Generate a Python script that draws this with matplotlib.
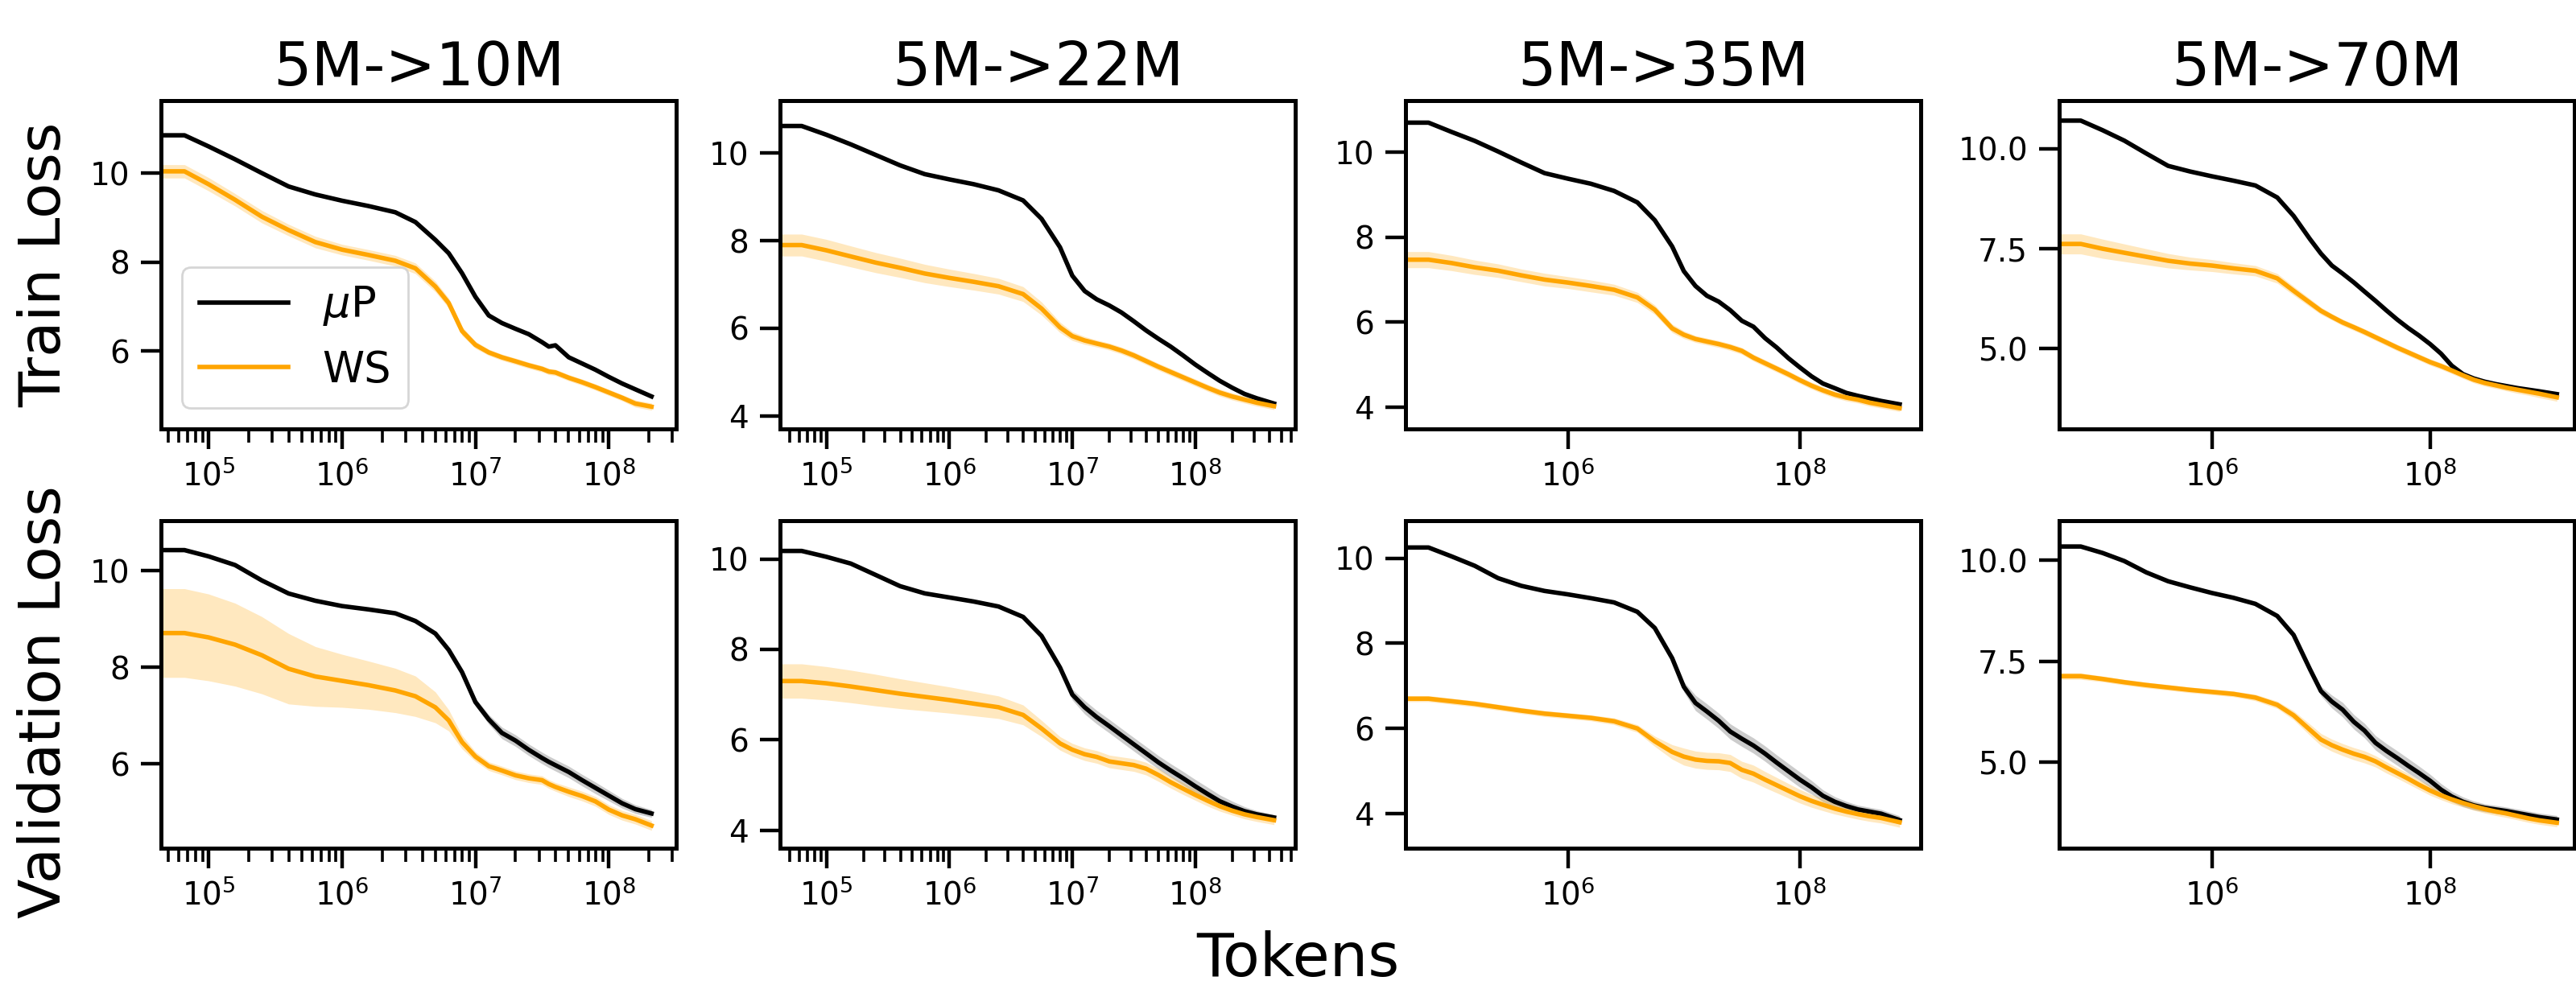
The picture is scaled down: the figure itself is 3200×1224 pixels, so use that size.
import matplotlib

matplotlib.use("Agg")
import matplotlib.pyplot as plt  # noqa: E402
import numpy as np  # noqa: E402
from matplotlib.ticker import (  # noqa: E402
    FixedLocator,
    FormatStrFormatter,
    LogLocator,
    NullFormatter,
    NullLocator,
)

# ------------------------------------------------------------------
# Values (tokens on a log axis, loss on y).
# ------------------------------------------------------------------
TITLES = ["5M->10M", "5M->22M", "5M->35M", "5M->70M"]

# 5M -> 10M
tokens_10m = [4.47e4, 6.6e4, 1.0e5, 1.58e5, 2.51e5, 3.98e5, 6.31e5, 1.0e6, 1.58e6, 2.51e6,
              3.55e6, 5.01e6, 6.31e6, 7.94e6, 1.0e7, 1.26e7, 1.58e7, 2.0e7, 2.51e7, 3.16e7,
              3.55e7, 3.98e7, 5.01e7, 6.31e7, 7.94e7, 1.0e8, 1.26e8, 1.58e8, 2.09e8]
train_mup_10m = [10.85, 10.85, 10.60, 10.31, 10.00, 9.70, 9.52, 9.38, 9.26, 9.12,
                 8.90, 8.50, 8.20, 7.75, 7.22, 6.80, 6.63, 6.50, 6.38, 6.20,
                 6.10, 6.13, 5.86, 5.72, 5.58, 5.42, 5.27, 5.14, 4.98]
train_ws_10m = [10.04, 10.04, 9.75, 9.40, 9.02, 8.72, 8.45, 8.28, 8.16, 8.03,
                7.86, 7.45, 7.08, 6.45, 6.14, 5.97, 5.86, 5.77, 5.68, 5.60,
                5.54, 5.52, 5.40, 5.30, 5.19, 5.07, 4.95, 4.82, 4.75]
train_ws_band_10m = [0.15, 0.15, 0.15, 0.14, 0.14, 0.13, 0.13, 0.12, 0.12, 0.12,
                     0.12, 0.12, 0.11, 0.10, 0.08, 0.07, 0.07, 0.07, 0.07, 0.07,
                     0.07, 0.07, 0.07, 0.07, 0.07, 0.07, 0.07, 0.08, 0.08]
val_mup_10m = [10.43, 10.43, 10.30, 10.12, 9.80, 9.53, 9.38, 9.27, 9.20, 9.12,
               8.96, 8.70, 8.36, 7.90, 7.28, 6.92, 6.64, 6.48, 6.29, 6.12,
               6.04, 5.97, 5.83, 5.66, 5.50, 5.34, 5.18, 5.06, 4.97]
val_mup_band_10m = [0.02, 0.02, 0.02, 0.02, 0.02, 0.02, 0.02, 0.02, 0.02, 0.02,
                    0.03, 0.03, 0.04, 0.06, 0.08, 0.10, 0.12, 0.12, 0.12, 0.12,
                    0.12, 0.12, 0.12, 0.12, 0.12, 0.11, 0.10, 0.09, 0.08]
val_ws_10m = [8.71, 8.71, 8.62, 8.47, 8.25, 7.97, 7.81, 7.72, 7.63, 7.52,
              7.40, 7.17, 6.90, 6.45, 6.15, 5.95, 5.86, 5.76, 5.70, 5.66,
              5.58, 5.52, 5.42, 5.33, 5.22, 5.05, 4.93, 4.85, 4.72]
val_ws_band_10m = [0.92, 0.92, 0.90, 0.86, 0.80, 0.73, 0.62, 0.55, 0.50, 0.46,
                   0.42, 0.32, 0.22, 0.14, 0.10, 0.09, 0.09, 0.09, 0.09, 0.09,
                   0.09, 0.09, 0.10, 0.10, 0.10, 0.10, 0.10, 0.10, 0.10]

# 5M -> 22M
tokens_22m = [4.2e4, 6.3e4, 1.0e5, 1.58e5, 2.51e5, 3.98e5, 6.31e5, 1.0e6, 1.58e6, 2.51e6,
              3.98e6, 5.62e6, 7.94e6, 1.0e7, 1.26e7, 1.58e7, 2.0e7, 2.51e7, 3.16e7, 3.98e7,
              5.01e7, 6.31e7, 7.94e7, 1.0e8, 1.26e8, 1.58e8, 2.0e8, 2.51e8, 3.16e8, 4.37e8]
train_mup_22m = [10.62, 10.62, 10.42, 10.20, 9.96, 9.72, 9.52, 9.40, 9.29, 9.15,
                 8.92, 8.50, 7.85, 7.20, 6.85, 6.66, 6.52, 6.36, 6.16, 5.95,
                 5.76, 5.58, 5.38, 5.17, 4.98, 4.80, 4.64, 4.50, 4.40, 4.28]
train_ws_22m = [7.90, 7.90, 7.78, 7.64, 7.50, 7.38, 7.25, 7.15, 7.06, 6.96,
                6.78, 6.45, 6.02, 5.82, 5.72, 5.65, 5.58, 5.49, 5.38, 5.25,
                5.12, 5.00, 4.88, 4.76, 4.64, 4.53, 4.44, 4.37, 4.30, 4.22]
train_ws_band_22m = [0.25, 0.25, 0.25, 0.24, 0.23, 0.22, 0.21, 0.20, 0.19, 0.18,
                     0.17, 0.15, 0.12, 0.10, 0.09, 0.08, 0.08, 0.08, 0.08, 0.08,
                     0.08, 0.08, 0.08, 0.08, 0.08, 0.08, 0.08, 0.08, 0.08, 0.08]
val_mup_22m = [10.18, 10.18, 10.05, 9.90, 9.65, 9.40, 9.24, 9.15, 9.06, 8.95,
               8.72, 8.30, 7.60, 7.00, 6.72, 6.50, 6.30, 6.10, 5.90, 5.70,
               5.50, 5.32, 5.15, 4.97, 4.80, 4.64, 4.52, 4.42, 4.35, 4.28]
val_mup_band_22m = [0.02, 0.02, 0.02, 0.02, 0.02, 0.02, 0.02, 0.02, 0.02, 0.02,
                    0.03, 0.05, 0.08, 0.12, 0.15, 0.15, 0.15, 0.15, 0.15, 0.15,
                    0.15, 0.15, 0.15, 0.15, 0.15, 0.14, 0.12, 0.10, 0.08, 0.06]
val_ws_22m = [7.30, 7.30, 7.25, 7.18, 7.10, 7.02, 6.95, 6.88, 6.80, 6.72,
              6.55, 6.25, 5.92, 5.78, 5.68, 5.62, 5.52, 5.48, 5.44, 5.36,
              5.22, 5.06, 4.92, 4.78, 4.65, 4.53, 4.43, 4.35, 4.29, 4.22]
val_ws_band_22m = [0.38, 0.38, 0.37, 0.36, 0.35, 0.33, 0.31, 0.29, 0.27, 0.25,
                   0.22, 0.18, 0.15, 0.14, 0.14, 0.14, 0.14, 0.14, 0.14, 0.14,
                   0.14, 0.13, 0.13, 0.12, 0.12, 0.11, 0.10, 0.10, 0.10, 0.10]

# 5M -> 35M
tokens_35m = [3.98e4, 6.31e4, 1.0e5, 1.58e5, 2.51e5, 3.98e5, 6.31e5, 1.0e6, 1.58e6, 2.51e6,
              3.98e6, 5.62e6, 7.94e6, 1.0e7, 1.26e7, 1.58e7, 2.0e7, 2.51e7, 3.16e7, 3.98e7,
              5.01e7, 6.31e7, 7.94e7, 1.0e8, 1.26e8, 1.58e8, 2.0e8, 2.51e8, 3.16e8, 3.98e8,
              5.01e8, 7.24e8]
train_mup_35m = [10.70, 10.70, 10.48, 10.27, 10.02, 9.76, 9.51, 9.38, 9.26, 9.09,
                 8.82, 8.40, 7.78, 7.20, 6.85, 6.62, 6.48, 6.28, 6.03, 5.89,
                 5.62, 5.40, 5.15, 4.93, 4.72, 4.55, 4.44, 4.33, 4.26, 4.20,
                 4.14, 4.06]
train_ws_35m = [7.47, 7.47, 7.39, 7.29, 7.21, 7.10, 7.00, 6.93, 6.85, 6.76,
                6.58, 6.29, 5.85, 5.70, 5.60, 5.54, 5.48, 5.41, 5.32, 5.16,
                5.03, 4.90, 4.77, 4.63, 4.50, 4.39, 4.29, 4.22, 4.17, 4.10,
                4.05, 3.97]
train_ws_band_35m = [0.19, 0.19, 0.18, 0.17, 0.16, 0.15, 0.15, 0.14, 0.14, 0.13,
                     0.12, 0.11, 0.10, 0.09, 0.08, 0.08, 0.08, 0.08, 0.08, 0.08,
                     0.08, 0.08, 0.08, 0.08, 0.08, 0.08, 0.08, 0.08, 0.08, 0.08,
                     0.08, 0.08]
val_mup_35m = [10.25, 10.25, 10.04, 9.82, 9.53, 9.35, 9.23, 9.15, 9.06, 8.96,
               8.74, 8.36, 7.65, 6.98, 6.60, 6.40, 6.18, 5.93, 5.76, 5.60,
               5.41, 5.20, 5.00, 4.80, 4.62, 4.42, 4.28, 4.18, 4.10, 4.05,
               4.00, 3.85]
val_mup_band_35m = [0.02, 0.02, 0.02, 0.02, 0.02, 0.02, 0.02, 0.02, 0.02, 0.02,
                    0.03, 0.05, 0.08, 0.12, 0.18, 0.18, 0.18, 0.18, 0.18, 0.18,
                    0.18, 0.18, 0.18, 0.18, 0.16, 0.14, 0.12, 0.11, 0.10, 0.10,
                    0.10, 0.10]
val_ws_35m = [6.70, 6.70, 6.64, 6.58, 6.50, 6.42, 6.35, 6.30, 6.25, 6.17,
              6.00, 5.70, 5.45, 5.34, 5.27, 5.24, 5.23, 5.19, 5.03, 4.94,
              4.80, 4.67, 4.54, 4.41, 4.30, 4.21, 4.12, 4.05, 3.99, 3.94,
              3.90, 3.80]
val_ws_band_35m = [0.07, 0.07, 0.07, 0.07, 0.07, 0.07, 0.07, 0.07, 0.07, 0.08,
                   0.09, 0.12, 0.17, 0.20, 0.20, 0.20, 0.20, 0.20, 0.20, 0.20,
                   0.19, 0.18, 0.17, 0.16, 0.15, 0.14, 0.13, 0.12, 0.12, 0.12,
                   0.12, 0.12]

# 5M -> 70M
tokens_70m = [3.98e4, 6.31e4, 1.0e5, 1.58e5, 2.51e5, 3.98e5, 6.31e5, 1.0e6, 1.58e6, 2.51e6,
              3.98e6, 5.62e6, 7.94e6, 1.0e7, 1.26e7, 1.58e7, 2.0e7, 2.51e7, 3.16e7, 3.98e7,
              5.01e7, 6.31e7, 7.94e7, 1.0e8, 1.26e8, 1.58e8, 2.0e8, 2.51e8, 3.16e8, 3.98e8,
              5.01e8, 6.31e8, 7.94e8, 1.0e9, 1.45e9]
train_mup_70m = [10.70, 10.70, 10.46, 10.20, 9.88, 9.57, 9.43, 9.31, 9.20, 9.08,
                 8.78, 8.32, 7.74, 7.38, 7.08, 6.88, 6.66, 6.43, 6.20, 5.96,
                 5.73, 5.52, 5.33, 5.12, 4.88, 4.58, 4.37, 4.26, 4.18, 4.12,
                 4.07, 4.02, 3.98, 3.94, 3.87]
train_ws_70m = [7.62, 7.62, 7.50, 7.40, 7.30, 7.20, 7.13, 7.08, 7.01, 6.95,
                6.76, 6.45, 6.15, 5.95, 5.80, 5.66, 5.54, 5.42, 5.29, 5.16,
                5.03, 4.91, 4.79, 4.67, 4.57, 4.46, 4.34, 4.23, 4.15, 4.09,
                4.03, 3.98, 3.93, 3.88, 3.79]
train_ws_band_70m = [0.25, 0.25, 0.24, 0.22, 0.20, 0.18, 0.16, 0.15, 0.14, 0.13,
                     0.12, 0.11, 0.10, 0.09, 0.08, 0.08, 0.08, 0.08, 0.08, 0.08,
                     0.08, 0.08, 0.08, 0.08, 0.08, 0.08, 0.08, 0.08, 0.08, 0.08,
                     0.08, 0.09, 0.09, 0.10, 0.10]
val_mup_70m = [10.34, 10.34, 10.18, 9.98, 9.70, 9.48, 9.33, 9.19, 9.07, 8.92,
               8.62, 8.15, 7.30, 6.76, 6.50, 6.30, 6.00, 5.78, 5.48, 5.28,
               5.10, 4.91, 4.73, 4.54, 4.32, 4.15, 4.02, 3.93, 3.87, 3.83,
               3.79, 3.74, 3.69, 3.64, 3.58]
val_mup_band_70m = [0.02, 0.02, 0.02, 0.02, 0.02, 0.02, 0.02, 0.02, 0.02, 0.02,
                    0.03, 0.05, 0.08, 0.12, 0.16, 0.18, 0.18, 0.18, 0.18, 0.18,
                    0.18, 0.18, 0.17, 0.16, 0.15, 0.13, 0.12, 0.11, 0.10, 0.10,
                    0.10, 0.10, 0.10, 0.10, 0.10]
val_ws_70m = [7.13, 7.13, 7.06, 6.98, 6.91, 6.85, 6.79, 6.74, 6.69, 6.60,
              6.42, 6.16, 5.80, 5.56, 5.42, 5.31, 5.21, 5.13, 5.02, 4.87,
              4.73, 4.59, 4.44, 4.30, 4.18, 4.08, 3.99, 3.91, 3.84, 3.78,
              3.73, 3.67, 3.61, 3.56, 3.50]
val_ws_band_70m = [0.08, 0.08, 0.07, 0.07, 0.07, 0.07, 0.07, 0.07, 0.07, 0.08,
                   0.09, 0.11, 0.14, 0.15, 0.15, 0.15, 0.15, 0.15, 0.14, 0.14,
                   0.13, 0.13, 0.12, 0.12, 0.11, 0.11, 0.10, 0.10, 0.10, 0.10,
                   0.10, 0.10, 0.10, 0.10, 0.10]

# axis ranges
XLIMS = [(4.4e4, 3.2e8), (4.2e4, 6.5e8), (4.0e4, 1.1e9), (4.0e4, 2.1e9)]
YLIMS_TRAIN = [(4.25, 11.63), (3.7, 11.2), (3.48, 11.22), (3.0, 11.2)]
YLIMS_VAL = [(4.25, 11.04), (3.6, 10.85), (3.19, 10.88), (2.87, 10.98)]
YTICKS = [[6, 8, 10], [4, 6, 8, 10], [4, 6, 8, 10], [5.0, 7.5, 10.0]]

COLUMNS = [
    (tokens_10m, train_mup_10m, train_ws_10m, train_ws_band_10m,
     val_mup_10m, val_mup_band_10m, val_ws_10m, val_ws_band_10m),
    (tokens_22m, train_mup_22m, train_ws_22m, train_ws_band_22m,
     val_mup_22m, val_mup_band_22m, val_ws_22m, val_ws_band_22m),
    (tokens_35m, train_mup_35m, train_ws_35m, train_ws_band_35m,
     val_mup_35m, val_mup_band_35m, val_ws_35m, val_ws_band_35m),
    (tokens_70m, train_mup_70m, train_ws_70m, train_ws_band_70m,
     val_mup_70m, val_mup_band_70m, val_ws_70m, val_ws_band_70m),
]

MUP_COLOR = "black"
WS_COLOR = "#FFA500"
W, H = 3200, 1224


def draw_panel(ax, tokens, mup, ws, ws_band, mup_band=None):
    t = np.asarray(tokens)
    mup = np.asarray(mup)
    ws = np.asarray(ws)
    ws_band = np.asarray(ws_band)
    if mup_band is not None:
        mup_band = np.asarray(mup_band)
        ax.fill_between(t, mup - mup_band, mup + mup_band, color=MUP_COLOR, alpha=0.2, lw=0)
    ax.plot(t, mup, color=MUP_COLOR, lw=2.0, label=r"$\mu$P")
    ax.fill_between(t, ws - ws_band, ws + ws_band, color=WS_COLOR, alpha=0.25, lw=0)
    ax.plot(t, ws, color=WS_COLOR, lw=2.0, label="WS")


def style_axes(ax, col, ylim):
    ax.set_xscale("log")
    ax.set_xlim(*XLIMS[col])
    ax.set_ylim(*ylim)
    ax.yaxis.set_major_locator(FixedLocator(YTICKS[col]))
    if col == 3:
        ax.yaxis.set_major_formatter(FormatStrFormatter("%.1f"))
    if col < 2:
        ax.xaxis.set_major_locator(FixedLocator([1e5, 1e6, 1e7, 1e8]))
        ax.xaxis.set_minor_locator(LogLocator(base=10, subs=np.arange(2, 10), numticks=20))
        ax.xaxis.set_minor_formatter(NullFormatter())
    else:
        ax.xaxis.set_major_locator(FixedLocator([1e6, 1e8]))
        ax.xaxis.set_minor_locator(NullLocator())
    ax.tick_params(which="major", length=9, width=1.6, labelsize=14, pad=5)
    ax.tick_params(which="minor", length=6, width=1.3)
    for s in ax.spines.values():
        s.set_linewidth(1.8)


fig = plt.figure(figsize=(16, 6.12), dpi=200)

col_left = [200, 969, 1746, 2558]
col_w = 640
rows = [(125, 533), (647, 1054)]

for col, data in enumerate(COLUMNS):
    tokens, tr_mup, tr_ws, tr_ws_b, va_mup, va_mup_b, va_ws, va_ws_b = data
    axes = []
    for r, (top, bot) in enumerate(rows):
        ax = fig.add_axes([col_left[col] / W, 1 - bot / H, col_w / W, (bot - top) / H])
        axes.append(ax)
    ax_tr, ax_va = axes

    draw_panel(ax_tr, tokens, tr_mup, tr_ws, tr_ws_b)
    draw_panel(ax_va, tokens, va_mup, va_ws, va_ws_b, mup_band=va_mup_b)
    style_axes(ax_tr, col, YLIMS_TRAIN[col])
    style_axes(ax_va, col, YLIMS_VAL[col])
    ax_tr.set_title(TITLES[col], fontsize=27, pad=7)

    if col == 0:
        ax_tr.legend(loc="lower left", fontsize=19, handlelength=2.1, frameon=True)

fig.text(56 / W, 1 - 329 / H, "Train Loss", rotation=90, ha="center", va="center", fontsize=26)
fig.text(56 / W, 1 - 872 / H, "Validation Loss", rotation=90, ha="center", va="center", fontsize=26)
fig.text(1612 / W, 1 - 1213 / H, "Tokens", ha="center", va="baseline", fontsize=27)

fig.savefig("out.png", dpi=200)
